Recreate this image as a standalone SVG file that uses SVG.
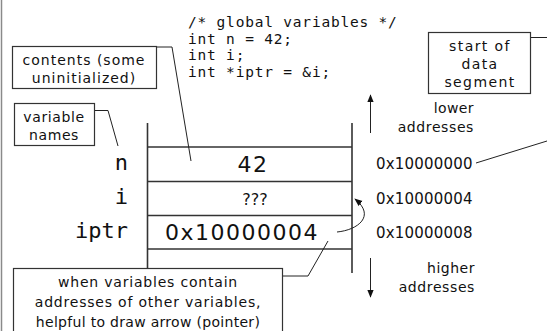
<svg xmlns="http://www.w3.org/2000/svg" width="547" height="331" viewBox="0 0 547 331">
  <style>
    .bg { fill: #ffffff; }
    .box { fill: #ffffff; stroke: #333333; stroke-width: 1.2; }
    .lead { fill: none; stroke: #222222; stroke-width: 1; }
    .wall { fill: none; stroke: #333333; stroke-width: 1.6; }
    .row { fill: none; stroke: #333333; stroke-width: 1.3; }
    .lbl { font-family: "DejaVu Sans", sans-serif; font-size: 14px; fill: #111111; letter-spacing: 0.8px; }
    .code { font-family: "DejaVu Sans Mono", monospace; font-size: 14.5px; fill: #111111; letter-spacing: 0.8px; }
    .name { font-family: "DejaVu Sans Mono", monospace; font-size: 22px; fill: #111111; }
    .val { font-family: "DejaVu Sans", sans-serif; font-size: 22px; fill: #111111; letter-spacing: 1.5px; }
    .addr { font-family: "DejaVu Sans", sans-serif; font-size: 15px; fill: #111111; letter-spacing: 0.2px; }
  </style>
  <defs>
    <marker id="head" viewBox="0 0 10 10" refX="9" refY="5" markerWidth="8" markerHeight="8" orient="auto" markerUnits="userSpaceOnUse">
      <path d="M0,1 L10,5 L0,9 z" fill="#111111"/>
    </marker>
  </defs>

  <rect class="bg" x="0" y="0" width="547" height="331"/>
  <!-- page edge on the left -->
  <line x1="1.5" y1="0" x2="1.5" y2="331" stroke="#8a8a8a" stroke-width="1.5"/>

  <!-- source code -->
  <g id="code">
    <text class="code" x="188" y="27">/* global variables */</text>
    <text class="code" x="188" y="43.7">int n = 42;</text>
    <text class="code" x="188" y="60.4">int i;</text>
    <text class="code" x="188" y="77.1">int *iptr = &amp;i;</text>
  </g>

  <!-- memory cells -->
  <g id="memory">
    <line class="wall" x1="147.5" y1="123" x2="147.5" y2="268"/>
    <line class="wall" x1="352" y1="123" x2="352" y2="273"/>
    <line class="row" x1="147.5" y1="147" x2="352" y2="147"/>
    <line class="row" x1="147.5" y1="181.5" x2="352" y2="181.5"/>
    <line class="row" x1="147.5" y1="215.5" x2="352" y2="215.5"/>
    <line class="row" x1="147.5" y1="249" x2="352" y2="249"/>
  </g>

  <g id="cell-n">
    <text class="name" x="128" y="170" text-anchor="end">n</text>
    <text class="val" x="253" y="172" text-anchor="middle">42</text>
    <text class="addr" x="376" y="168.5">0x10000000</text>
  </g>
  <g id="cell-i">
    <text class="name" x="128" y="204" text-anchor="end">i</text>
    <text class="val" x="255" y="205" text-anchor="middle" style="font-size:16px;letter-spacing:0px">???</text>
    <text class="addr" x="376" y="203.5">0x10000004</text>
  </g>
  <g id="cell-iptr">
    <text class="name" x="128" y="238" text-anchor="end">iptr</text>
    <text class="val" x="242" y="240" text-anchor="middle">0x10000004</text>
    <text class="addr" x="376" y="237.5">0x10000008</text>
  </g>

  <!-- callout boxes -->
  <g id="note-contents">
    <rect class="box" x="12.5" y="46.5" width="144" height="42"/>
    <text class="lbl" x="84" y="65" text-anchor="middle" style="letter-spacing:1px">contents (some</text>
    <text class="lbl" x="84" y="83" text-anchor="middle" style="letter-spacing:1px">uninitialized)</text>
  </g>
  <g id="note-names">
    <rect class="box" x="14.5" y="103.5" width="80" height="42"/>
    <text class="lbl" x="54" y="122" text-anchor="middle" style="letter-spacing:0.6px">variable</text>
    <text class="lbl" x="54" y="140" text-anchor="middle" style="letter-spacing:0.6px">names</text>
  </g>
  <g id="note-segment">
    <rect class="box" x="428.5" y="32.5" width="102" height="61"/>
    <text class="lbl" x="480" y="51" text-anchor="middle" style="letter-spacing:1.4px">start of</text>
    <text class="lbl" x="480" y="69" text-anchor="middle" style="letter-spacing:1.4px">data</text>
    <text class="lbl" x="480" y="87" text-anchor="middle" style="letter-spacing:1.4px">segment</text>
  </g>
  <g id="note-pointer">
    <rect class="box" x="13.5" y="268.5" width="269" height="80"/>
    <text class="lbl" x="148" y="287" text-anchor="middle">when variables contain</text>
    <text class="lbl" x="148" y="307" text-anchor="middle">addresses of other variables,</text>
    <text class="lbl" x="148" y="327" text-anchor="middle" style="letter-spacing:0.3px">helpful to draw arrow (pointer)</text>
  </g>

  <!-- address direction labels -->
  <g id="lower">
    <text class="lbl" x="474" y="113" text-anchor="end" style="letter-spacing:0.4px">lower</text>
    <text class="lbl" x="474" y="132" text-anchor="end" style="letter-spacing:0.6px">addresses</text>
  </g>
  <g id="higher">
    <text class="lbl" x="475" y="273" text-anchor="end" style="letter-spacing:0.5px">higher</text>
    <text class="lbl" x="475" y="292" text-anchor="end" style="letter-spacing:0.6px">addresses</text>
  </g>

  <!-- connectors -->
  <g id="connectors">
    <polyline class="lead" points="157,47 172,47 191,161"/>
    <polyline class="lead" points="95,110.5 108,110.5 118,146"/>
    <polyline class="lead" points="531,37.5 547,37.5"/>
    <line class="lead" x1="476" y1="163" x2="547" y2="141"/>
    <polyline class="lead" points="283,276 308,276 328,241"/>
    <line class="lead" x1="370.5" y1="133" x2="370.5" y2="95" marker-end="url(#head)"/>
    <line class="lead" x1="370.5" y1="258" x2="370.5" y2="297" marker-end="url(#head)"/>
    <path class="lead" stroke-width="1.2" d="M337,232 C358,230 376,216 355,199" marker-end="url(#head)"/>
  </g>
</svg>
